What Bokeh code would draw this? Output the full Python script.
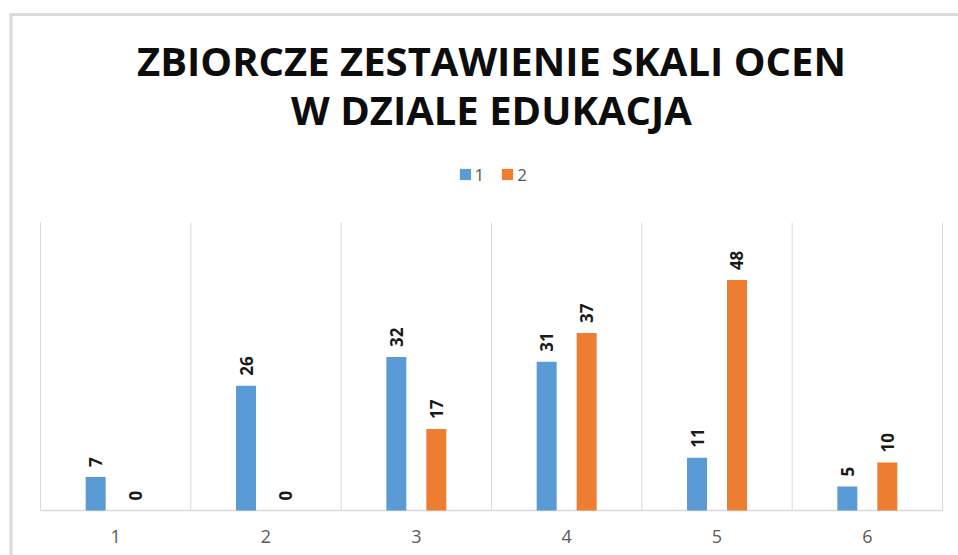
from bokeh.plotting import figure
from bokeh.models import ColumnDataSource, Legend, LegendItem, Label, Range1d
from bokeh.transform import dodge
from bokeh.core.properties import value
from bokeh.embed import file_html
from bokeh.resources import INLINE

categories = ["1", "2", "3", "4", "5", "6"]
series_names = ["1", "2"]
series1 = [7, 26, 32, 31, 11, 5]
series2 = [0, 0, 17, 37, 48, 10]
title_line1 = "ZBIORCZE ZESTAWIENIE SKALI OCEN"
title_line2 = "W DZIALE EDUKACJA"
colors = ["#5B9BD5", "#ED7D31"]
y_max = 60

# ---- layout constants (page pixels) ----
W, H = 958, 555
LEFT, TOP = 0, 0
PLOT_L, PLOT_R = 40, 942         # category area left/right
PLOT_T, PLOT_B = 222, 510        # value area top (y_max) / baseline
n = len(categories)
px_per_x = (PLOT_R - PLOT_L) / n
px_per_y = (PLOT_B - PLOT_T) / y_max


def xd(px):
    return 0.5 + (px - PLOT_L) / px_per_x


def yd(py):
    return (PLOT_B - py) / px_per_y


x_range = Range1d(xd(LEFT), xd(LEFT + W))
y_range = Range1d(yd(TOP + H), yd(TOP))

pos = list(range(1, n + 1))
src = ColumnDataSource(dict(
    x=pos, s1=series1, s2=series2,
    l1=[str(v) for v in series1], l2=[str(v) for v in series2],
    cat=categories, cy=[yd(536)] * n,
))

p = figure(width=W, height=H, x_range=x_range, y_range=y_range,
           output_backend="svg", toolbar_location=None,
           min_border_left=0, min_border_right=0, min_border_top=0, min_border_bottom=0)
p.outline_line_color = None
p.background_fill_color = "white"
p.border_fill_color = "white"
p.axis.visible = False
p.grid.visible = False

FONT = "Open Sans"
GRID = "#d9d9d9"

# image frame lines (top and left)
p.segment(x0=[xd(9), xd(10.5)], y0=[yd(14), yd(13)], x1=[xd(LEFT + W), xd(10.5)],
          y1=[yd(14), yd(TOP + H)], line_color="#dadada", line_width=3)

# category separators and baseline
bounds = [i + 0.5 for i in range(n + 1)]
p.segment(x0=bounds, y0=[0] * len(bounds), x1=bounds, y1=[y_max] * len(bounds),
          line_color=GRID, line_width=1)
p.segment(x0=[bounds[0]], y0=[0], x1=[bounds[-1]], y1=[0], line_color=GRID, line_width=1.5)

bw = 0.133
r1 = p.vbar(x=dodge("x", -bw, range=p.x_range), top="s1", width=bw, source=src,
            fill_color=colors[0], line_color=None)
r2 = p.vbar(x=dodge("x", bw, range=p.x_range), top="s2", width=bw, source=src,
            fill_color=colors[1], line_color=None)

# zero-size blocks used only as square legend swatches
k1 = p.block(x="x", y=0, width=0, height=0, source=src, fill_color=colors[0], line_color=None)
k2 = p.block(x="x", y=0, width=0, height=0, source=src, fill_color=colors[1], line_color=None)

for col, lab, off in (("s1", "l1", -bw), ("s2", "l2", bw)):
    p.text(x=dodge("x", off, range=p.x_range), y=col, text=lab, source=src,
           angle=1.5708, text_align="left", text_baseline="middle", y_offset=-10,
           text_font=value(FONT), text_font_style="bold", text_font_size="17px",
           text_color="#1a1a1a")

# category tick labels
p.text(x="x", y="cy", text="cat", source=src, text_align="center", text_baseline="middle",
       text_font=value(FONT), text_font_size="18px", text_color="#595959")

# titles
for txt, py in ((title_line1, 60), (title_line2, 109)):
    p.add_layout(Label(x=3.5, y=yd(py), text=txt, text_align="center", text_baseline="middle",
                       text_font=FONT, text_font_style="bold", text_font_size="40px",
                       text_color="#0d0d0d"))

legend = Legend(items=[LegendItem(label=series_names[0], renderers=[k1]),
                       LegendItem(label=series_names[1], renderers=[k2])],
                orientation="horizontal", location=(457.6 - LEFT, TOP + H - 185.5),
                border_line_color=None, background_fill_alpha=0,
                glyph_width=14, glyph_height=14, label_standoff=3, spacing=16,
                padding=0, margin=0, label_height=14, label_width=9,
                label_text_font=FONT, label_text_font_size="17px",
                label_text_color="#595959")
p.add_layout(legend, "center")

open("out.html", "w").write(file_html(p, INLINE))
